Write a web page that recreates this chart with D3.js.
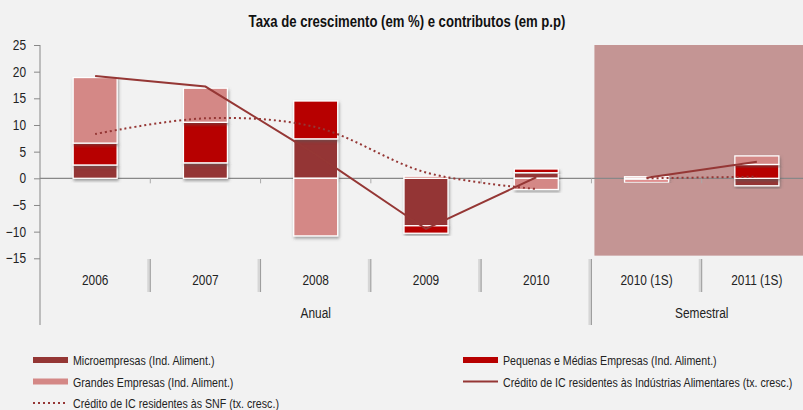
<!DOCTYPE html>
<html>
<head>
<meta charset="utf-8">
<script src="https://cdn.jsdelivr.net/npm/d3@7"></script>
<style>
  body { margin: 0; background: #f2f2f2; }
  svg { display: block; font-family: "Liberation Sans Narrow", "Arial Narrow", "Liberation Sans", Arial, sans-serif; }
</style>
</head>
<body>
<script>
// categorias e grupos
var categories = ["2006", "2007", "2008", "2009", "2010", "2010 (1S)", "2011 (1S)"];
var groups = [{name: "Anual", from: 0, to: 5}, {name: "Semestral", from: 5, to: 7}];

// contributos (p.p.)
var micro   = [2.5, 2.9, 7.4, -8.9, 1.05, -0.3, -1.4];
var pme     = [4.1, 7.6, 7.1, -1.4, 0.7, -0.4, 2.6];
var grandes = [12.3, 6.4, -10.8, 0.4, -2.1, 0.3, 1.6];

// taxas de crescimento (%)
var creditoIA  = [19.2, 17.2, 4.5, -9.5, 0.2, 0.1, 3.1];
var creditoSNF = [8.3, 11.25, 9.6, 1.1, -2.0, 0.0, 0.3];

var yTicks = [-15, -10, -5, 0, 5, 10, 15, 20, 25];

var seriesNames = {
  micro: "Microempresas (Ind. Aliment.)",
  pme: "Pequenas e Médias Empresas (Ind. Aliment.)",
  grandes: "Grandes Empresas (Ind. Aliment.)",
  ia: "Crédito de IC residentes às Indústrias Alimentares (tx. cresc.)",
  snf: "Crédito de IC residentes às SNF (tx. cresc.)"
};
var colors = {micro: "#943634", pme: "#b70000", grandes: "#d48886", line: "#953735"};

var width = 803, height = 410;
var narrow = 0.82; // sem Arial Narrow: comprime a Liberation Sans

var svg = d3.select("body").append("svg")
  .attr("width", width)
  .attr("height", height);

// texto "estreito"
function label(parent, tx, ty, str, size, anchor) {
  return parent.append("text")
    .attr("transform", "translate(" + tx + "," + ty + ") scale(" + narrow + ",1)")
    .attr("text-anchor", anchor || "start")
    .style("font-size", size + "px").style("fill", "#222")
    .text(str);
}

// sombra das barras
var defs = svg.append("defs");
var f = defs.append("filter").attr("id", "shadow")
  .attr("x", "-20%").attr("y", "-20%").attr("width", "140%").attr("height", "150%");
f.append("feDropShadow").attr("dx", 1).attr("dy", 2).attr("stdDeviation", 1.5)
  .attr("flood-color", "#555").attr("flood-opacity", 0.55);

var x = d3.scaleBand().domain(categories).range([40, 812]);
var y = d3.scaleLinear().domain([-15, 25]).range([258.3, 45]);

// titulo
label(svg, 407, 27, "Taxa de crescimento (em %) e contributos (em p.p)", 16, "middle")
  .style("font-weight", "bold").style("fill", "#111");

// zona semestral sombreada
svg.append("rect")
  .attr("x", x("2010 (1S)") + 3)
  .attr("y", y(25))
  .attr("width", 812 - x("2010 (1S)"))
  .attr("height", y(-14.5) - y(25))
  .attr("fill", "#c49594");

// eixo y
var yAxis = svg.append("g").attr("transform", "translate(40,0)")
  .call(d3.axisLeft(y).tickValues(yTicks).tickSize(6).tickPadding(8));
yAxis.select(".domain").remove();
yAxis.selectAll("line").attr("stroke", "#888");
yAxis.selectAll("text")
  .attr("x", -14 / narrow)
  .attr("transform", "scale(" + narrow + ",1)")
  .style("font-size", "14.5px").style("fill", "#222")
  .style("font-family", "inherit");

svg.append("line")
  .attr("x1", 40).attr("x2", 40).attr("y1", y(25)).attr("y2", 325)
  .attr("stroke", "#888");

// linha do zero
svg.append("line")
  .attr("x1", 40).attr("x2", width).attr("y1", y(0)).attr("y2", y(0))
  .attr("stroke", "#888").attr("stroke-width", 1.2);

// pequenas marcas no zero
svg.selectAll(".zt")
  .data(categories.slice(1))
  .enter().append("line")
  .attr("x1", function(d) { return x(d); })
  .attr("x2", function(d) { return x(d); })
  .attr("y1", y(0)).attr("y2", y(0) + 5)
  .attr("stroke", "#aaa");

// barras empilhadas
var table = categories.map(function(c, i) {
  return {cat: c, micro: micro[i], pme: pme[i], grandes: grandes[i]};
});
var stack = d3.stack().keys(["micro", "pme", "grandes"]).offset(d3.stackOffsetDiverging);
var layers = stack(table);
var barW = 44;

var bars = svg.append("g");
layers.forEach(function(layer) {
  bars.selectAll(".b-" + layer.key)
    .data(layer)
    .enter().append("rect")
    .attr("x", function(d) { return x(d.data.cat) + x.bandwidth() / 2 - barW / 2; })
    .attr("y", function(d) { return y(Math.max(d[0], d[1])); })
    .attr("width", barW)
    .attr("height", function(d) { return Math.abs(y(d[0]) - y(d[1])); })
    .attr("fill", colors[layer.key])
    .attr("stroke", "#fff").attr("stroke-width", 1.3)
    .attr("filter", "url(#shadow)");
});

// linhas
var cx = function(i) { return x(categories[i]) + x.bandwidth() / 2; };
var solid = d3.line().x(function(d) { return cx(d.i); }).y(function(d) { return y(d.v); });
var smooth = d3.line().x(function(d) { return cx(d.i); }).y(function(d) { return y(d.v); })
  .curve(d3.curveCatmullRom);

groups.forEach(function(g) {
  var ia = [], snf = [];
  for (var i = g.from; i < g.to; i++) {
    ia.push({i: i, v: creditoIA[i]});
    snf.push({i: i, v: creditoSNF[i]});
  }
  svg.append("path").attr("d", smooth(snf))
    .attr("fill", "none").attr("stroke", colors.line)
    .attr("stroke-width", 2).attr("stroke-dasharray", "2,3");
  svg.append("path").attr("d", solid(ia))
    .attr("fill", "none").attr("stroke", colors.line).attr("stroke-width", 2);
});

// separadores de categorias
function sep(xp, y2) {
  svg.append("line").attr("x1", xp - 1.5).attr("x2", xp - 1.5).attr("y1", 259).attr("y2", y2)
    .attr("stroke", "#d6d6d6").attr("stroke-width", 3);
  svg.append("line").attr("x1", xp).attr("x2", xp).attr("y1", 259).attr("y2", y2)
    .attr("stroke", "#999").attr("stroke-width", 1);
}
categories.slice(1).forEach(function(c) {
  sep(x(c), c === "2010 (1S)" ? 325 : 292);
});

// rotulos de categorias
categories.forEach(function(c) {
  label(svg, x(c) + x.bandwidth() / 2, 285, c, 14.5, "middle");
});
groups.forEach(function(g) {
  var gx = (x(categories[g.from]) + x(categories[g.to - 1]) + x.bandwidth()) / 2;
  label(svg, gx, 318, g.name, 14.5, "middle");
});

// legenda
var legend = [
  {key: "micro", type: "bar", x: 33, y: 360},
  {key: "pme", type: "bar", x: 463, y: 360},
  {key: "grandes", type: "bar", x: 33, y: 381.5},
  {key: "ia", type: "line", x: 463, y: 381.5},
  {key: "snf", type: "dot", x: 33, y: 403}
];
legend.forEach(function(d) {
  var g = svg.append("g").attr("transform", "translate(" + d.x + "," + d.y + ")");
  g.append("line")
    .attr("x1", 0).attr("x2", 35).attr("y1", 0).attr("y2", 0)
    .attr("stroke", d.type === "bar" ? colors[d.key] : colors.line)
    .attr("stroke-width", d.type === "bar" ? 6 : 2)
    .attr("stroke-dasharray", d.type === "dot" ? "2,3" : null);
  label(g, 40, 5, seriesNames[d.key], 13, "start");
});
</script>
</body>
</html>
